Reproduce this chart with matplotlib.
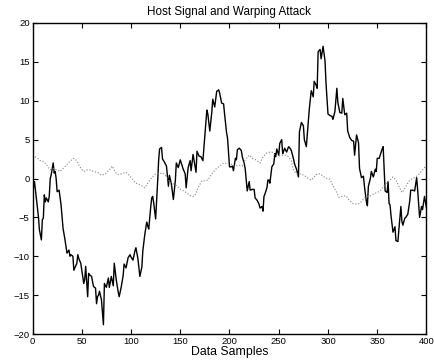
import numpy as np
import matplotlib
matplotlib.use("Agg")
import matplotlib.pyplot as plt

plt.rcParams['font.family'] = ['Liberation Sans', 'DejaVu Sans']

# host signal (sample index, value)
host_x = [0, 2, 4, 6, 7, 9, 10, 11, 12, 13, 14, 16, 17, 18, 19, 21, 22, 23, 24, 25,
          27, 28, 29, 30, 31, 33, 34, 35, 37, 38, 39, 41, 42, 43, 45, 46, 47, 49, 50, 52,
          53, 54, 56, 57, 58, 60, 61, 62, 64, 65, 66, 67, 68, 70, 72, 73, 75, 77, 78, 80,
          82, 83, 85, 87, 88, 90, 92, 93, 95, 97, 99, 100, 102, 104, 105, 107, 109, 111, 112, 114,
          116, 117, 118, 120, 121, 122, 123, 125, 127, 128, 129, 131, 132, 134, 136, 138, 139, 141, 143, 145,
          146, 148, 150, 151, 153, 155, 156, 158, 160, 161, 163, 165, 166, 167, 169, 171, 173, 175, 177, 178,
          180, 182, 183, 185, 187, 189, 190, 192, 194, 195, 197, 198, 200, 202, 203, 204, 206, 207, 208, 210,
          212, 213, 215, 216, 218, 220, 221, 223, 225, 226, 228, 230, 231, 233, 234, 235, 236, 238, 239, 240,
          241, 243, 245, 246, 247, 248, 250, 251, 253, 254, 255, 256, 258, 260, 262, 263, 265, 266, 268, 270,
          271, 273, 275, 276, 278, 280, 281, 283, 285, 286, 288, 289, 290, 292, 293, 295, 297, 298, 300, 302,
          304, 305, 307, 309, 310, 312, 314, 315, 317, 319, 320, 322, 324, 326, 327, 329, 331, 332, 334, 336,
          337, 339, 340, 341, 343, 344, 346, 348, 349, 350, 352, 353, 355, 356, 357, 358, 360, 361, 362, 363,
          364, 366, 368, 369, 371, 372, 374, 375, 376, 378, 379, 381, 383, 384, 386, 388, 390, 391, 393, 395,
          396, 398, 400]
host_y = [-1.9, -0.4, -2.7, -4.9, -6.6, -7.9, -5.3, -5.1, -2.1, -3.0, -2.5, -3.0, -2.3, 0.0, 0.5, 2.0, 0.7, 0.9, 0.0, -1.7,
          -1.5, -2.5, -3.4, -4.9, -6.4, -7.9, -8.8, -9.6, -9.2, -10.0, -9.8, -10.0, -11.8, -11.5, -10.9, -9.8, -10.3, -10.9, -11.8, -13.5,
          -13.0, -11.3, -15.2, -12.2, -12.4, -12.6, -13.3, -13.9, -14.1, -16.1, -15.2, -15.0, -14.5, -15.6, -18.8, -13.5, -14.0, -12.8, -14.0, -12.6,
          -13.8, -10.9, -13.0, -14.6, -15.2, -14.0, -12.5, -11.0, -11.5, -10.2, -9.8, -10.1, -10.5, -9.3, -8.9, -10.3, -12.6, -11.4, -9.3, -7.2,
          -5.6, -6.1, -6.5, -3.7, -2.5, -2.3, -3.1, -5.2, -0.5, 2.2, 3.8, 4.0, 2.5, 2.1, 1.6, -1.0, 0.4, -0.7, -2.7, -0.3,
          2.0, 1.4, 2.4, 2.0, 1.2, 0.6, -1.2, 1.4, 2.3, 1.0, 3.1, 1.6, 0.8, 3.5, 2.9, 2.8, 2.3, 5.6, 8.8, 8.3,
          6.1, 8.5, 10.2, 9.2, 11.2, 11.4, 11.0, 9.7, 9.6, 8.3, 5.9, 5.2, 1.5, 1.5, 1.6, 1.0, 2.6, 2.4, 3.7, 3.9,
          3.6, 2.8, 1.9, 1.2, -1.6, -0.4, -1.5, -1.4, -1.4, -2.5, -2.8, -3.3, -3.8, -3.6, -4.2, -2.3, -2.0, -1.2, -0.2, -0.2,
          -0.6, 1.5, 1.9, 3.2, 2.8, 3.8, 3.0, 4.5, 5.0, 3.2, 3.5, 3.9, 3.4, 4.1, 3.8, 3.5, 2.5, 1.9, 1.2, 0.2,
          6.0, 7.2, 6.8, 5.0, 4.1, 7.4, 8.9, 11.3, 10.5, 12.5, 12.0, 11.6, 16.3, 16.6, 15.4, 17.0, 15.1, 12.2, 8.3, 8.1,
          8.0, 7.6, 8.6, 11.6, 9.8, 8.5, 8.4, 10.3, 8.2, 8.4, 6.1, 5.3, 4.9, 4.8, 3.0, 5.6, 4.6, 1.3, 0.1, 0.3,
          -1.0, -3.0, -3.5, -1.0, 0.0, 0.9, 0.2, 1.2, 0.9, 2.6, 2.6, 3.0, 3.8, 4.1, 1.4, -1.6, -1.8, -0.4, -3.2, -3.4,
          -4.8, -6.9, -6.2, -8.0, -8.1, -6.5, -3.6, -5.5, -6.0, -5.1, -5.0, -4.6, -2.9, -1.5, -1.5, -1.6, 0.1, -1.4, -5.0, -3.6,
          -4.0, -2.3, -3.8]

# warping attack (dotted)
attack_x = [0, 4, 8, 11, 14, 18, 21, 25, 28, 31, 35, 38, 42, 45, 48, 52, 55, 58, 62, 66,
            70, 74, 78, 81, 84, 87, 90, 95, 99, 102, 105, 109, 114, 117, 121, 125, 128, 132, 135, 139,
            142, 146, 149, 152, 156, 160, 163, 165, 168, 172, 175, 178, 182, 186, 190, 194, 198, 201, 205, 210,
            213, 216, 220, 224, 227, 231, 234, 238, 241, 243, 247, 250, 254, 257, 260, 263, 265, 268, 272, 276,
            280, 283, 286, 289, 292, 296, 299, 302, 305, 308, 311, 315, 318, 321, 325, 329, 332, 335, 338, 342,
            346, 350, 353, 357, 360, 363, 366, 369, 372, 375, 377, 380, 383, 386, 389, 392, 395, 398, 400]
attack_y = [3.0, 2.7, 2.3, 2.2, 1.8, 1.1, 1.3, 1.1, 0.9, 1.3, 1.8, 2.2, 2.6, 2.3, 1.5, 0.9, 1.1, 1.1, 0.9, 0.8,
            0.4, 0.6, 1.1, 1.6, 0.8, 0.5, 0.6, 0.8, 0.3, -0.2, -0.6, -0.8, -1.2, -0.6, 0.1, 0.6, 0.6, 0.7, 0.4, -0.4,
            -0.6, -0.9, -1.3, -1.5, -1.8, -2.2, -2.3, -2.2, -1.2, -0.3, -0.3, -0.2, 0.6, 1.2, 1.6, 2.0, 1.9, 1.9, 1.6, 1.7,
            1.6, 2.4, 3.0, 2.5, 2.4, 2.0, 2.8, 3.3, 3.4, 3.4, 2.9, 2.9, 3.0, 3.0, 2.8, 2.2, 1.1, 0.6, 0.6, 0.4,
            0.0, -0.2, 0.2, 0.6, 0.6, 0.2, 0.0, -0.1, -0.9, -1.6, -2.4, -2.3, -2.2, -2.7, -3.2, -3.3, -3.2, -2.8, -2.4, -2.3,
            -2.0, -1.8, -1.6, -0.9, -0.5, -0.2, 0.2, -0.2, -1.0, -1.8, -1.5, -0.8, -0.2, 0.0, 0.2, 0.5, 1.0, 1.4, 1.5]

fig = plt.figure(figsize=(4.34, 3.62), dpi=100)
ax = fig.add_axes([0.0749, 0.0773, 0.9078, 0.8592])

ax.plot(host_x, host_y, color='black', linewidth=1.0)
ax.plot(attack_x, attack_y, color='0.5', linestyle=':', linewidth=0.8)

ax.set_xlim(0, 400)
ax.set_ylim(-20, 20)
ax.set_xticks(np.arange(0, 401, 50))
ax.set_yticks(np.arange(-20, 21, 5))
ax.tick_params(direction='in', length=3.5, width=0.8, labelsize=6.8, pad=2,
               top=True, right=True)
for s in ax.spines.values():
    s.set_linewidth(1.0)

ax.set_title('Host Signal and Warping Attack', fontsize=8.4, pad=6)
ax.set_xlabel('Data Samples', fontsize=8.8, labelpad=0.5)

fig.savefig('out.png', dpi=100)
